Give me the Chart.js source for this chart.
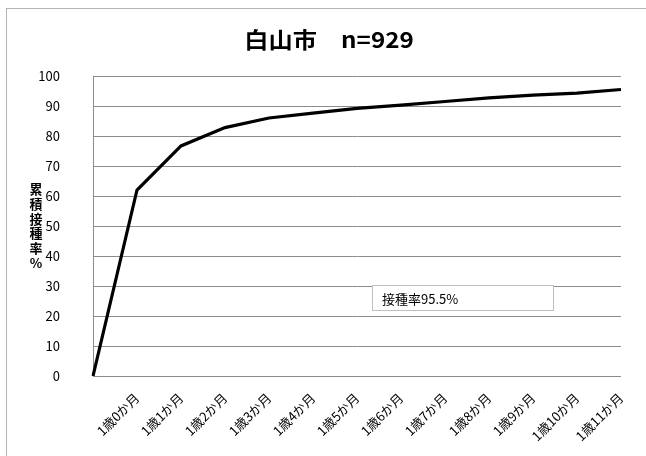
<!DOCTYPE html>
<html>
<head>
<meta charset="utf-8">
<script src="https://cdn.jsdelivr.net/npm/chart.js@4"></script>
<style>
  body { margin: 0; background: #fff; }
  canvas { display: block; }
</style>
</head>
<body>
<canvas id="chart" width="646" height="456"></canvas>
<script>
const labels = ["", "1歳0か月", "1歳1か月", "1歳2か月", "1歳3か月", "1歳4か月", "1歳5か月",
  "1歳6か月", "1歳7か月", "1歳8か月", "1歳9か月", "1歳10か月", "1歳11か月"];
const rates = [0, 62, 76.7, 82.8, 86, 87.6, 89.2, 90.3, 91.5, 92.7, 93.6, 94.3, 95.5];
const yTicks = [0, 10, 20, 30, 40, 50, 60, 70, 80, 90, 100];
const titleText = "白山市　n=929";
const yTitle = "累積接種率%";
const noteText = "接種率95.5%";

const FONT = "'Noto Sans CJK JP', 'Noto Sans', sans-serif";
const GRID = "#8c8c8c";

// frame, title, vertical axis title and the text box
const extras = {
  id: "extras",
  beforeDraw(chart) {
    const c = chart.ctx;
    c.save();
    c.fillStyle = "#fff";
    c.fillRect(0, 0, chart.width, chart.height);
    c.strokeStyle = "#b4b4b4";
    c.lineWidth = 1;
    c.strokeRect(6.5, 8.5, 700, 500);
    c.restore();
  },
  afterDraw(chart) {
    const c = chart.ctx;
    c.save();
    // title, a bit wider than the font as in the original
    c.fillStyle = "#000";
    c.font = "bold 22px " + FONT;
    c.textAlign = "center";
    c.textBaseline = "middle";
    c.translate(329, 40);
    c.scale(1.1, 1);
    c.fillText(titleText, 0, 0);
    c.restore();

    c.save();
    c.fillStyle = "#000";
    c.font = "bold 13px " + FONT;
    c.textAlign = "center";
    c.textBaseline = "middle";
    const chars = Array.from(yTitle);
    const step = 14.8;
    const y0 = 226 - (chars.length - 1) * step / 2;
    chars.forEach((ch, i) => c.fillText(ch, 36, y0 + i * step));

    c.fillStyle = "#fff";
    c.fillRect(372, 286, 181, 25);
    c.strokeStyle = "#c0c0c0";
    c.strokeRect(372.5, 285.5, 181, 25);
    c.fillStyle = "#000";
    c.font = "13px " + FONT;
    c.textAlign = "left";
    c.fillText(noteText, 382, 299);
    c.restore();
  }
};

new Chart(document.getElementById("chart"), {
  type: "line",
  data: {
    labels: labels,
    datasets: [{
      data: rates,
      borderColor: "#000",
      borderWidth: 3.2,
      pointRadius: 0,
      tension: 0,
      fill: false
    }]
  },
  options: {
    responsive: false,
    animation: false,
    layout: { padding: { left: 0, right: 24, top: 76, bottom: 0 } },
    plugins: {
      legend: { display: false },
      tooltip: { enabled: false },
      title: { display: false }
    },
    scales: {
      x: {
        offset: false,
        grid: { display: false, drawTicks: false },
        border: { color: GRID, width: 1 },
        ticks: {
          autoSkip: false,
          maxRotation: 45,
          minRotation: 45,
          padding: 14,
          color: "#000",
          font: { family: FONT, size: 13 }
        },
        afterFit(scale) { scale.height = 80; }
      },
      y: {
        min: 0,
        max: 100,
        afterBuildTicks(scale) { scale.ticks = yTicks.map(v => ({ value: v })); },
        grid: { color: GRID, drawTicks: false },
        border: { color: GRID, width: 1 },
        ticks: {
          padding: 33,
          color: "#000",
          font: { family: FONT, size: 13 }
        },
        afterFit(scale) { scale.width = 93; }
      }
    }
  },
  plugins: [extras]
});
</script>
</body>
</html>
